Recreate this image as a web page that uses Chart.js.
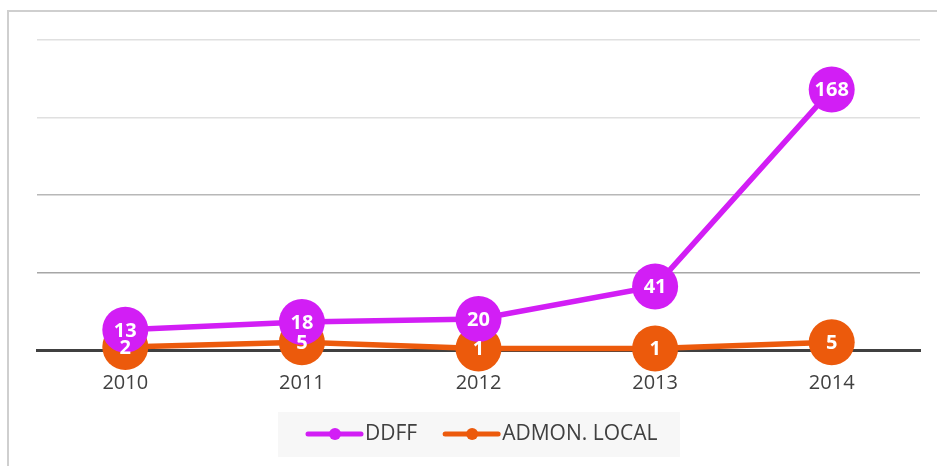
<!DOCTYPE html>
<html>
<head>
<meta charset="utf-8">
<script src="https://cdn.jsdelivr.net/npm/chart.js@4"></script>
<style>
  html, body { margin: 0; padding: 0; background: #fff; }
  #wrap { width: 937px; height: 466px; position: relative; }
</style>
</head>
<body>
<div id="wrap"><canvas id="chart"></canvas></div>
<script>
const years = ['2010', '2011', '2012', '2013', '2014']
const ddff = [13, 18, 20, 41, 168]
const admon = [2, 5, 1, 1, 5]
const yTicks = [0, 50, 100, 150, 200]
const gridColors = ['rgba(0,0,0,0)', '#a6a6a6', '#b8b8b8', '#e0e0e0', '#e0e0e0']

const magenta = '#d21ef5'
const orange = '#ec5a0c'
const textColor = '#404040'

const framePlugin = {
  id: 'frame',
  beforeDraw(chart) {
    const ctx = chart.ctx
    ctx.save()
    ctx.strokeStyle = '#cfcfcf'
    ctx.lineWidth = 2
    ctx.beginPath()
    ctx.moveTo(8, 466)
    ctx.lineTo(8, 11)
    ctx.lineTo(937, 11)
    ctx.stroke()
    ctx.restore()
  }
}

// legend: grey box, line+dot marker, label
const legendPlugin = {
  id: 'lineLegend',
  afterDraw(chart) {
    const ctx = chart.ctx
    ctx.save()
    ctx.fillStyle = '#f7f7f7'
    ctx.fillRect(278, 412, 402, 45)
    ctx.font = '21px "Open Sans", sans-serif'
    ctx.textBaseline = 'middle'
    ctx.textAlign = 'left'
    let x = 306
    const y = 434
    chart.data.datasets.forEach(ds => {
      const c = ds.borderColor
      ctx.strokeStyle = c
      ctx.fillStyle = c
      ctx.lineWidth = 5
      ctx.lineCap = 'round'
      ctx.beginPath()
      ctx.moveTo(x + 2, y)
      ctx.lineTo(x + 55, y)
      ctx.stroke()
      ctx.beginPath()
      ctx.arc(x + 29, y, 6, 0, Math.PI * 2)
      ctx.fill()
      ctx.fillStyle = textColor
      ctx.fillText(ds.label, x + 59, y)
      x += 59 + ctx.measureText(ds.label).width + 26
    })
    ctx.restore()
  }
}

const labelPlugin = {
  id: 'pointLabels',
  afterDatasetsDraw(chart) {
    const ctx = chart.ctx
    ctx.save()
    ctx.fillStyle = '#fff'
    ctx.font = 'bold 20px "Open Sans", sans-serif'
    ctx.textAlign = 'center'
    ctx.textBaseline = 'middle'
    chart.data.datasets.forEach((ds, i) => {
      chart.getDatasetMeta(i).data.forEach((pt, j) => {
        ctx.fillText(ds.data[j], pt.x, pt.y + 1)
      })
    })
    ctx.restore()
  }
}

new Chart(document.getElementById('chart'), {
  type: 'line',
  data: {
    labels: years,
    datasets: [
      {
        label: 'DDFF',
        data: ddff,
        borderColor: magenta,
        backgroundColor: magenta,
        borderWidth: 5.5,
        pointStyle: 'circle',
        pointRadius: 23,
        pointHoverRadius: 23,
        pointBorderWidth: 0,
        pointBackgroundColor: magenta,
        tension: 0
      },
      {
        label: 'ADMON. LOCAL',
        data: admon,
        borderColor: orange,
        backgroundColor: orange,
        borderWidth: 5.5,
        pointStyle: 'circle',
        pointRadius: 23,
        pointHoverRadius: 23,
        pointBorderWidth: 0,
        pointBackgroundColor: orange,
        tension: 0
      }
    ]
  },
  options: {
    responsive: true,
    maintainAspectRatio: false,
    animation: false,
    clip: false,
    layout: { autoPadding: false, padding: { left: 37, right: 17, top: 40, bottom: 0 } },
    scales: {
      x: {
        offset: true,
        grid: { display: false, drawTicks: false },
        border: { display: true, color: '#404040', width: 3 },
        ticks: {
          color: textColor,
          padding: 21,
          font: { family: 'Open Sans', size: 20 }
        },
        afterFit: s => { s.height = 116 }
      },
      y: {
        min: 0,
        max: 200,
        afterBuildTicks: s => { s.ticks = yTicks.map(v => ({ value: v })) },
        grid: {
          drawTicks: false,
          lineWidth: 1.5,
          color: c => gridColors[c.index]
        },
        border: { display: false },
        ticks: { display: false },
        afterFit: s => { s.width = 0 }
      }
    },
    plugins: {
      legend: { display: false },
      tooltip: { enabled: false }
    }
  },
  plugins: [framePlugin, legendPlugin, labelPlugin]
})
</script>
</body>
</html>
